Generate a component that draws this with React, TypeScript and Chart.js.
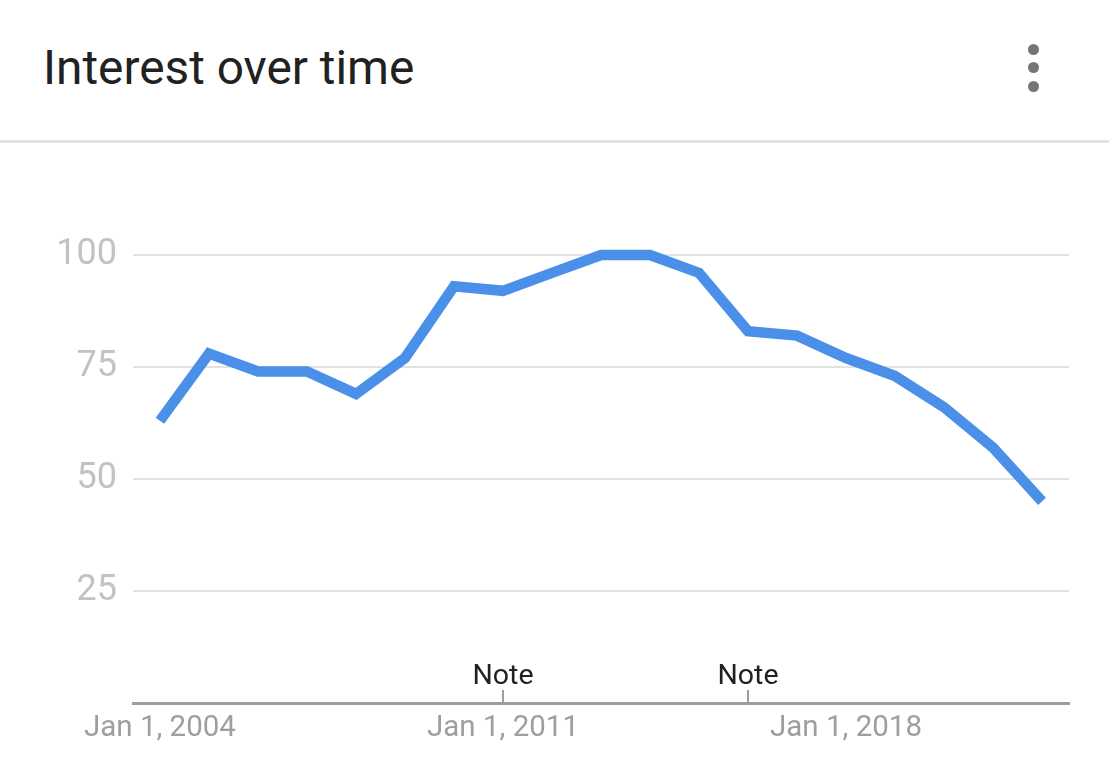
import React, { useEffect, useRef } from "react";
import { Chart, registerables } from "chart.js";

Chart.register(...registerables);

const TITLE = "Interest over time";
const YEARS = [2004, 2005, 2006, 2007, 2008, 2009, 2010, 2011, 2012, 2013, 2014, 2015, 2016, 2017, 2018, 2019, 2020, 2021, 2022];
const VALUES = [63, 78, 74, 74, 69, 77, 93, 92, 96, 100, 100, 96, 83, 82, 77, 73, 66, 57, 45];
const X_TICK_YEARS = [2004, 2011, 2018];
const NOTE_YEARS = [2011, 2016];
const NOTE_LABEL = "Note";
const Y_TICKS = [0, 25, 50, 75, 100];

const W = 1109;
const CANVAS_TOP = 150;
const CANVAS_H = 771 - CANVAS_TOP;

const notePlugin = {
  id: "notes",
  afterDraw(chart: any) {
    const { ctx } = chart;
    const xs = chart.scales.x;
    const bottom = chart.chartArea.bottom;
    ctx.save();
    NOTE_YEARS.forEach((yr) => {
      const px = Math.round(xs.getPixelForValue(yr));
      ctx.fillStyle = "#9e9e9e";
      ctx.fillRect(px - 1, bottom - 13, 2, 13);
      ctx.fillStyle = "#212121";
      ctx.font = "28.5px Roboto";
      ctx.textAlign = "center";
      ctx.textBaseline = "alphabetic";
      ctx.fillText(NOTE_LABEL, px, bottom - 19);
    });
    ctx.restore();
  },
};

export default function App() {
  const ref = useRef<HTMLCanvasElement | null>(null);

  useEffect(() => {
    if (!ref.current) return;
    const chart = new Chart(ref.current, {
      type: "line",
      data: {
        datasets: [
          {
            data: YEARS.map((y, i) => ({ x: y, y: VALUES[i] })),
            borderColor: "#4a8fe8",
            borderWidth: 10.5,
            pointRadius: 0,
            tension: 0,
            borderCapStyle: "butt",
            borderJoinStyle: "miter",
            clip: false as any,
            fill: false,
          },
        ],
      },
      options: {
        animation: false,
        responsive: false,
        events: [],
        layout: { padding: { top: 105, right: 40, left: 0, bottom: 0 } },
        plugins: { legend: { display: false }, tooltip: { enabled: false } },
        scales: {
          x: {
            type: "linear",
            min: 2003.45,
            max: 2022.55,
            afterBuildTicks: (scale: any) => {
              scale.ticks = X_TICK_YEARS.map((v) => ({ value: v }));
            },
            afterFit: (scale: any) => {
              scale.height = 68;
            },
            grid: { display: false, drawTicks: false },
            border: { display: true, color: "#9e9e9e", width: 3 },
            ticks: {
              autoSkip: false,
              maxRotation: 0,
              padding: 8,
              color: "#9e9e9e",
              font: { family: "Roboto", size: 29.5 },
              callback: (v: any) => `Jan 1, ${v}`,
            },
          },
          y: {
            min: 0,
            max: 100,
            afterBuildTicks: (scale: any) => {
              scale.ticks = Y_TICKS.map((v) => ({ value: v }));
            },
            afterFit: (scale: any) => {
              scale.width = 133;
            },
            grid: {
              drawTicks: false,
              lineWidth: 2,
              color: (c: any) => (c.tick && c.tick.value === 0 ? "rgba(0,0,0,0)" : "#e2e2e2"),
            },
            border: { display: false },
            ticks: {
              padding: 16,
              color: "#c2c2c2",
              font: { family: "Roboto", size: 36 },
              callback: (v: any) => (v === 0 ? "" : String(v)),
            },
          },
        },
      },
      plugins: [notePlugin],
    });
    return () => chart.destroy();
  }, []);

  const dots = [49, 67.5, 86];

  return (
    <div style={{ position: "absolute", left: 0, top: 0, width: W, height: 771, background: "#fff", overflow: "hidden" }}>
      <div
        style={{
          position: "absolute",
          left: 43,
          top: 40,
          fontFamily: "Roboto",
          fontSize: 47.8,
          color: "#212121",
          whiteSpace: "nowrap",
        }}
      >
        {TITLE}
      </div>
      {dots.map((cy, i) => (
        <div
          key={i}
          style={{
            position: "absolute",
            left: 1033 - 5.5,
            top: cy - 5.5,
            width: 11,
            height: 11,
            borderRadius: "50%",
            background: "#757575",
          }}
        />
      ))}
      <div style={{ position: "absolute", left: 0, top: 140, width: W, height: 3, background: "#e3e3e3" }} />
      <canvas
        ref={ref}
        width={W}
        height={CANVAS_H}
        style={{ position: "absolute", left: 0, top: CANVAS_TOP, width: W, height: CANVAS_H }}
      />
    </div>
  );
}
